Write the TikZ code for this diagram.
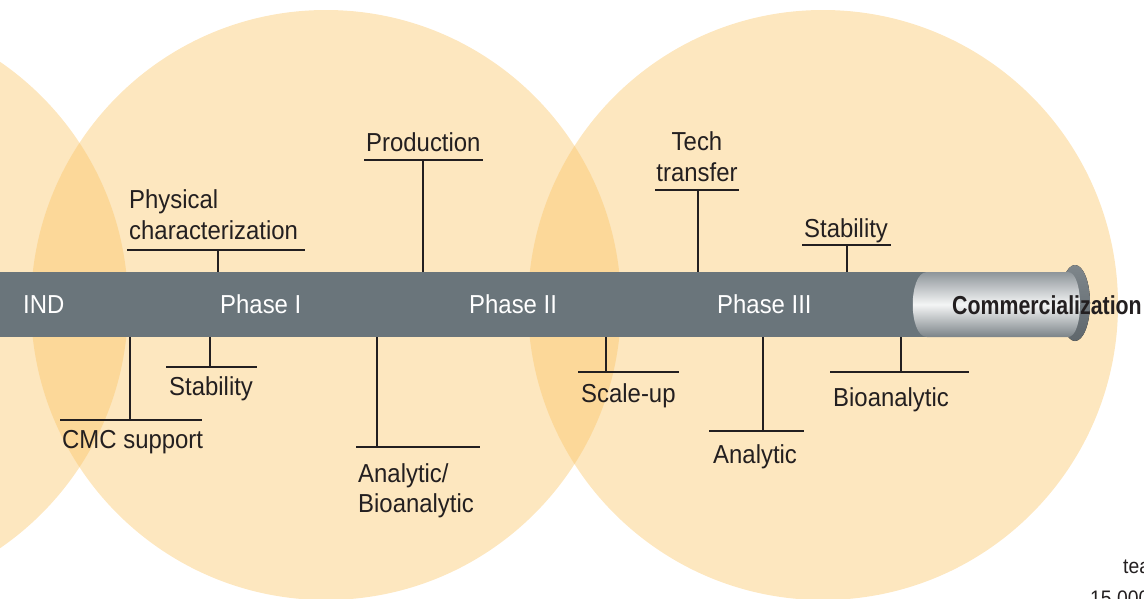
\documentclass[tikz,border=0pt]{standalone}
\usepackage{fontspec}
\setmainfont{Liberation Sans}[FakeStretch=0.92]
\newfontfamily\condbold{Liberation Sans Bold}[FakeStretch=0.82]
\definecolor{circ}{HTML}{FDE7BF}
\definecolor{lens}{HTML}{FCD899}
\definecolor{barc}{HTML}{6A757B}
\definecolor{ink}{HTML}{231F20}
\definecolor{cylA}{HTML}{8E959A}
\definecolor{cylB}{HTML}{F4F5F5}
\definecolor{cylC}{HTML}{7B8388}
\definecolor{flA}{HTML}{7E868B}
\definecolor{flB}{HTML}{5F676C}
\begin{document}
\begin{tikzpicture}[x=1pt,y=-1pt,
  lbl/.style={inner sep=0pt, text=ink, font=\fontsize{26}{31}\selectfont, anchor=base west},
  phase/.style={inner sep=0pt, text=white, font=\fontsize{26}{31}\selectfont, anchor=base west},
  rule/.style={draw=ink, line width=1.3pt},
]
\useasboundingbox (0,0) rectangle (1144,598);
\clip (0,0) rectangle (1144,598);

% circles
\coordinate (c1) at (-167,305);
\coordinate (c2) at (326,305);
\coordinate (c3) at (823,305);
\fill[circ] (c1) circle[radius=295pt];
\fill[circ] (c2) circle[radius=295pt];
\fill[circ] (c3) circle[radius=295pt];
\begin{scope}
  \clip (c1) circle[radius=295pt];
  \fill[lens] (c2) circle[radius=295pt];
\end{scope}
\begin{scope}
  \clip (c2) circle[radius=295pt];
  \fill[lens] (c3) circle[radius=295pt];
\end{scope}

% bar
\node[fill=barc, minimum width=950pt, minimum height=65pt, inner sep=0pt, anchor=north west] (bar) at (0,272) {};

% cylinder
\fill[top color=flA, bottom color=flB] (1075,303) ellipse[x radius=15pt, y radius=38pt];
\shade[top color=cylA, bottom color=cylC, middle color=cylB]
  (927,272) -- (1068,272) .. controls (1084,272) and (1084,337) .. (1068,337)
  -- (927,337) .. controls (908,337) and (908,272) .. (927,272) -- cycle;

% bar labels
\node[phase] (ind) at (23,313) {IND};
\node[phase] (p1) at (220,313) {Phase I};
\node[phase] (p2) at (469,313) {Phase II};
\node[phase] (p3) at (717,313) {Phase III};
\node[anchor=base west, inner sep=0pt, text=ink, font=\fontsize{26}{30}\condbold] (com) at (952,314) {Commercialization};

% top labels
\node[lbl] (phys) at (129,208) {\begin{tabular}[t]{@{}l@{}}Physical\\characterization\end{tabular}};
\coordinate (physL) at (127,250); \coordinate (physR) at (305,250); \coordinate (physS) at (218,250);
\draw[rule] (physL) -- (physR); \draw[rule] (physS) -- (physS |- bar.north);

\node[lbl] (prod) at (366,151) {Production};
\coordinate (prodL) at (364,160); \coordinate (prodR) at (483,160); \coordinate (prodS) at (423,160);
\draw[rule] (prodL) -- (prodR); \draw[rule] (prodS) -- (prodS |- bar.north);

\node[lbl, anchor=base] (tech) at (697,150) {\begin{tabular}[t]{@{}c@{}}Tech\\transfer\end{tabular}};
\coordinate (techL) at (655,190); \coordinate (techR) at (739,190); \coordinate (techS) at (698,190);
\draw[rule] (techL) -- (techR); \draw[rule] (techS) -- (techS |- bar.north);

\node[lbl] (stab2) at (804,237) {Stability};
\coordinate (stab2L) at (802,245); \coordinate (stab2R) at (891,245); \coordinate (stab2S) at (847,245);
\draw[rule] (stab2L) -- (stab2R); \draw[rule] (stab2S) -- (stab2S |- bar.north);

% bottom labels
\node[lbl] (cmc) at (62,448) {CMC support};
\coordinate (cmcL) at (60,420); \coordinate (cmcR) at (202,420); \coordinate (cmcS) at (130,420);
\draw[rule] (cmcL) -- (cmcR); \draw[rule] (cmcS) -- (cmcS |- bar.south);

\node[lbl] (stab1) at (169,395) {Stability};
\coordinate (stab1L) at (166,367); \coordinate (stab1R) at (257,367); \coordinate (stab1S) at (210,367);
\draw[rule] (stab1L) -- (stab1R); \draw[rule] (stab1S) -- (stab1S |- bar.south);

\node[lbl] (anbio) at (358,482) {\begin{tabular}[t]{@{}l@{}}Analytic/\\[-1pt]Bioanalytic\end{tabular}};
\coordinate (anbioL) at (356,447); \coordinate (anbioR) at (480,447); \coordinate (anbioS) at (377,447);
\draw[rule] (anbioL) -- (anbioR); \draw[rule] (anbioS) -- (anbioS |- bar.south);

\node[lbl] (scale) at (581,402) {Scale-up};
\coordinate (scaleL) at (578,372); \coordinate (scaleR) at (679,372); \coordinate (scaleS) at (606,372);
\draw[rule] (scaleL) -- (scaleR); \draw[rule] (scaleS) -- (scaleS |- bar.south);

\node[lbl] (anal) at (713,463) {Analytic};
\coordinate (analL) at (709,431); \coordinate (analR) at (804,431); \coordinate (analS) at (763,431);
\draw[rule] (analL) -- (analR); \draw[rule] (analS) -- (analS |- bar.south);

\node[lbl] (bio) at (833,406) {Bioanalytic};
\coordinate (bioL) at (830,372); \coordinate (bioR) at (969,372); \coordinate (bioS) at (901,372);
\draw[rule] (bioL) -- (bioR); \draw[rule] (bioS) -- (bioS |- bar.south);

% cut-off text at the lower right
\node[anchor=base west, inner sep=0pt, text=ink, font=\fontsize{21}{25}\selectfont] (tea) at (1123,573) {tea};
\node[anchor=base west, inner sep=0pt, text=ink, font=\fontsize{21}{25}\selectfont] (num) at (1090,605) {15 000};
\end{tikzpicture}
\end{document}
